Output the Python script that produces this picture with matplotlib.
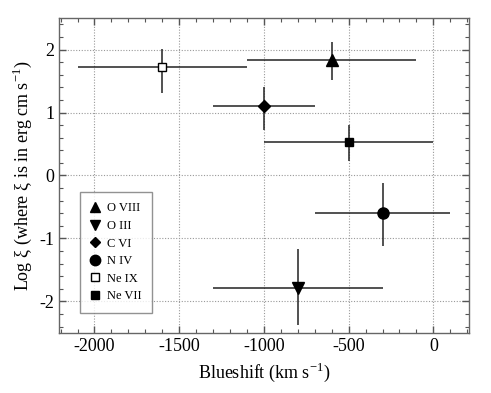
import matplotlib
matplotlib.use("Agg")
import matplotlib.pyplot as plt
from matplotlib.ticker import MultipleLocator
from matplotlib.lines import Line2D

plt.rcParams['font.family'] = ['Liberation Serif', 'DejaVu Serif']
plt.rcParams['mathtext.fontset'] = 'custom'
plt.rcParams['mathtext.rm'] = 'Liberation Serif'
plt.rcParams['axes.unicode_minus'] = False

ions = ["O VIII", "O III", "C VI", "N IV", "Ne IX", "Ne VII"]
blueshift = [-600, -800, -1000, -300, -1600, -500]
blueshift_err = [500, 500, 300, 400, 500, 500]
log_xi = [1.84, -1.78, 1.11, -0.59, 1.72, 0.53]
log_xi_err_low = [0.32, 0.59, 0.39, 0.53, 0.41, 0.30]
log_xi_err_high = [0.28, 0.62, 0.30, 0.47, 0.29, 0.27]
markers = ["^", "v", "D", "o", "s", "s"]
marker_sizes = [8, 8, 6, 8, 5.5, 6]
legend_sizes = [7, 7, 5.5, 7.5, 5.5, 5.5]
face_colors = ["black", "black", "black", "black", "white", "black"]

fig = plt.figure(figsize=(4.91, 3.93), dpi=100)
ax = fig.add_axes([0.120, 0.153, 0.835, 0.801])

handles = []
for i in range(len(ions)):
    ax.errorbar(blueshift[i], log_xi[i],
                xerr=blueshift_err[i],
                yerr=[[log_xi_err_low[i]], [log_xi_err_high[i]]],
                fmt=markers[i], ms=marker_sizes[i], mfc=face_colors[i],
                mec="black", mew=1.0, ecolor="#222222", elinewidth=1.1,
                capsize=0, zorder=3)
    handles.append(Line2D([], [], linestyle="none", marker=markers[i],
                          ms=legend_sizes[i], mfc=face_colors[i],
                          mec="black", mew=1.0, label=ions[i]))

ax.set_xlim(-2210, 210)
ax.set_ylim(-2.5, 2.5)
ax.xaxis.set_major_locator(MultipleLocator(500))
ax.xaxis.set_minor_locator(MultipleLocator(100))
ax.yaxis.set_major_locator(MultipleLocator(1))
ax.yaxis.set_minor_locator(MultipleLocator(0.2))
ax.tick_params(which="both", direction="in", top=True, right=True,
               colors="#555555", labelcolor="black", labelsize=13)
ax.tick_params(which="major", length=5, width=1)
ax.tick_params(which="minor", length=3, width=0.8)
for s in ax.spines.values():
    s.set_color("#666666")
    s.set_linewidth(1.0)
ax.grid(True, which="major", linestyle=(0, (1, 1.5)), color="#999999", linewidth=0.8)
ax.set_axisbelow(True)

ax.set_xlabel(r"Blueshift (km s$^{\mathrm{-1}}$)", fontsize=13)
ax.set_ylabel(r"Log ξ (where ξ is in erg cm s$^{\mathrm{-1}}$)", fontsize=13)

leg = ax.legend(handles=handles, loc="lower left", bbox_to_anchor=(0.051, 0.063),
                borderaxespad=0, fontsize=9, frameon=True, fancybox=False,
                edgecolor="#777777", handlelength=0.8, handletextpad=0.5,
                borderpad=0.85, labelspacing=0.45, numpoints=1)
leg.get_frame().set_linewidth(1.0)

fig.savefig("out.png", dpi=100)
